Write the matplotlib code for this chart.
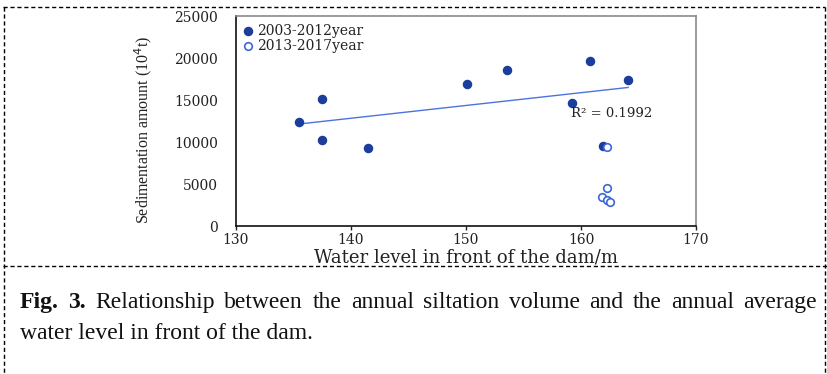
import numpy as np
import matplotlib
matplotlib.use("Agg")
import matplotlib.pyplot as plt
from matplotlib.lines import Line2D

W, H = 827, 374

# water level in front of the dam (m) and sedimentation amount (10^4 t)
wl_0312 = [135.5, 137.5, 137.5, 141.5, 150.1, 153.6, 159.2, 160.8, 161.9, 164.1]
sed_0312 = [12400, 15100, 10200, 9300, 16950, 18550, 14700, 19650, 9500, 17400]
wl_1317 = [162.3, 162.3, 161.8, 162.3, 162.5]
sed_1317 = [9450, 4550, 3400, 3100, 2800]

xticks = [130, 140, 150, 160, 170]
yticks = [0, 5000, 10000, 15000, 20000, 25000]
r2_label = "R² = 0.1992"

caption_1 = "Fig. 3. Relationship between the annual siltation volume and the annual average"
caption_2 = "water level in front of the dam."

FILLED = "#1b3d9b"
OPEN = "#3d65d9"
TREND = "#4a74e0"


def fx(x):
    return x / W


def fy(y):
    return 1 - y / H


fig = plt.figure(figsize=(W / 100, H / 100), dpi=100)
ax = fig.add_axes([fx(236), fy(226), fx(696) - fx(236), fy(16) - fy(226)])

ax.scatter(wl_0312, sed_0312, s=34, color=FILLED, zorder=3, label="2003-2012year")
ax.scatter(wl_1317, sed_1317, s=30, facecolors="white", edgecolors=OPEN,
           linewidths=1.2, zorder=4, label="2013-2017year")

# linear trend of the 2003-2012 points
k, b = np.polyfit(wl_0312, sed_0312, 1)
tx = np.array([min(wl_0312), max(wl_0312)])
ax.plot(tx, k * tx + b, color=TREND, lw=1, zorder=2)
ax.text(159.1, 13450, r2_label, fontsize=9.5, family="DejaVu Serif",
        color="#222222", va="center", ha="left")

ax.set_xlim(130, 170)
ax.set_ylim(0, 25000)
ax.set_xticks(xticks)
ax.set_yticks(yticks)
ax.tick_params(axis="x", length=3, width=1, pad=2, labelsize=10, colors="#222222")
ax.tick_params(axis="y", length=0, pad=13, labelsize=10, colors="#222222")
for lab in ax.get_xticklabels() + ax.get_yticklabels():
    lab.set_family("DejaVu Serif")
for s in ["left", "bottom"]:
    ax.spines[s].set_color("#111111")
    ax.spines[s].set_linewidth(1.2)
for s in ["top", "right"]:
    ax.spines[s].set_color("#8a8a8a")
    ax.spines[s].set_linewidth(1.2)

ax.set_xlabel("Water level in front of the dam/m", family="DejaVu Serif",
              fontsize=13, labelpad=1, color="#222222")
fig.text(fx(143), fy(130), "Sedimentation amount (10$^4$t)", family="Liberation Serif",
         fontsize=11.5, rotation=90, ha="center", va="center", color="#222222")

leg = ax.legend(loc="upper left", frameon=False, handlelength=0.6,
                handletextpad=0.4, borderaxespad=0.35, borderpad=0.2,
                labelspacing=0.1, prop={"family": "DejaVu Serif", "size": 10})
for t in leg.get_texts():
    t.set_color("#222222")

# dashed frames
dash = dict(color="black", lw=1, linestyle=(0, (3, 2)))
fig.add_artist(Line2D([fx(3), fx(825)], [fy(7), fy(7)], transform=fig.transFigure, **dash))
fig.add_artist(Line2D([fx(3), fx(827)], [fy(266), fy(266)], transform=fig.transFigure, **dash))
fig.add_artist(Line2D([fx(3.5), fx(3.5)], [fy(7), fy(374)], transform=fig.transFigure, **dash))
fig.add_artist(Line2D([fx(825), fx(825)], [fy(7), fy(374)], transform=fig.transFigure, **dash))

# caption, first line justified
renderer = fig.canvas.get_renderer()
words = caption_1.split(" ")
cap_font = dict(family="Liberation Serif", fontsize=17, color="#111111", va="baseline")
texts = []
for i, w in enumerate(words):
    t = fig.text(0, fy(308), w, weight="bold" if i < 2 else "normal", **cap_font)
    texts.append(t)
widths = [t.get_window_extent(renderer).width for t in texts]
x0, x1 = 20, 817
gap = (x1 - x0 - sum(widths)) / (len(words) - 1)
x = x0
for t, wd in zip(texts, widths):
    t.set_x(fx(x))
    x += wd + gap
fig.text(fx(20), fy(339), caption_2, **cap_font)

fig.savefig("out.png", dpi=100)
